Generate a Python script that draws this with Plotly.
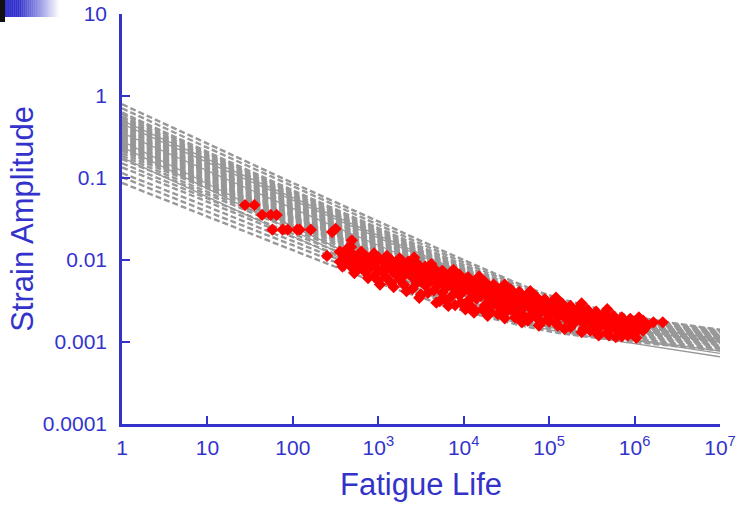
import plotly.graph_objects as go

# ---- axis ticks ----
life_ticks = [1, 10, 100, 1e3, 1e4, 1e5, 1e6, 1e7]
life_tick_text = ["1", "10", "100", "10<sup>3</sup>", "10<sup>4</sup>",
                  "10<sup>5</sup>", "10<sup>6</sup>", "10<sup>7</sup>"]
strain_ticks = [1e-4, 1e-3, 1e-2, 0.1, 1, 10]
strain_tick_text = ["0.0001", "0.001", "0.01", "0.1", "1", "10"]

# ---- predicted strain-life curves: log10(strain) at N = 1, 10, ..., 1e7 ----
curve_life = [1, 10, 100, 1e3, 1e4, 1e5, 1e6, 1e7]
dashed_curves_log = [
    [-0.10, -0.58, -1.06, -1.53, -2.00, -2.43, -2.69, -2.85],
    [-0.15, -0.63, -1.10, -1.57, -2.03, -2.45, -2.70, -2.86],
    [-0.20, -0.68, -1.15, -1.61, -2.06, -2.48, -2.72, -2.87],
    [-0.22, -0.70, -1.17, -1.63, -2.08, -2.49, -2.73, -2.88],
    [-0.25, -0.72, -1.19, -1.65, -2.10, -2.50, -2.74, -2.89],
    [-0.27, -0.74, -1.21, -1.67, -2.11, -2.51, -2.745, -2.895],
    [-0.29, -0.76, -1.22, -1.68, -2.12, -2.52, -2.75, -2.90],
    [-0.31, -0.78, -1.24, -1.70, -2.14, -2.53, -2.76, -2.905],
    [-0.33, -0.79, -1.25, -1.71, -2.15, -2.54, -2.77, -2.91],
    [-0.35, -0.81, -1.27, -1.72, -2.16, -2.545, -2.775, -2.915],
    [-0.37, -0.83, -1.29, -1.74, -2.17, -2.55, -2.78, -2.92],
    [-0.385, -0.845, -1.305, -1.755, -2.185, -2.56, -2.785, -2.925],
    [-0.40, -0.86, -1.32, -1.77, -2.20, -2.57, -2.79, -2.93],
    [-0.415, -0.87, -1.33, -1.78, -2.205, -2.575, -2.795, -2.935],
    [-0.43, -0.88, -1.34, -1.79, -2.21, -2.58, -2.80, -2.94],
    [-0.445, -0.90, -1.355, -1.805, -2.225, -2.59, -2.805, -2.945],
    [-0.46, -0.92, -1.37, -1.82, -2.24, -2.60, -2.81, -2.95],
    [-0.475, -0.93, -1.38, -1.83, -2.245, -2.605, -2.815, -2.955],
    [-0.49, -0.94, -1.39, -1.84, -2.25, -2.61, -2.82, -2.96],
    [-0.505, -0.955, -1.405, -1.85, -2.26, -2.615, -2.825, -2.965],
    [-0.52, -0.97, -1.42, -1.86, -2.27, -2.62, -2.83, -2.97],
    [-0.535, -0.985, -1.435, -1.875, -2.285, -2.63, -2.835, -2.97],
    [-0.55, -1.00, -1.45, -1.89, -2.30, -2.64, -2.84, -2.97],
    [-0.565, -1.015, -1.46, -1.90, -2.305, -2.645, -2.845, -2.975],
    [-0.58, -1.03, -1.47, -1.91, -2.31, -2.65, -2.85, -2.98],
    [-0.595, -1.04, -1.48, -1.915, -2.315, -2.655, -2.855, -2.985],
    [-0.61, -1.05, -1.49, -1.92, -2.32, -2.66, -2.86, -2.99],
    [-0.625, -1.065, -1.505, -1.935, -2.335, -2.67, -2.865, -2.995],
    [-0.64, -1.08, -1.52, -1.95, -2.35, -2.68, -2.87, -3.00],
    [-0.655, -1.095, -1.535, -1.96, -2.36, -2.685, -2.87, -3.00],
    [-0.67, -1.11, -1.55, -1.97, -2.37, -2.69, -2.87, -3.00],
    [-0.70, -1.13, -1.57, -1.99, -2.38, -2.70, -2.88, -3.01],
    [-0.73, -1.17, -1.60, -2.02, -2.41, -2.72, -2.89, -3.02],
    [-0.77, -1.20, -1.63, -2.06, -2.43, -2.74, -2.91, -3.03],
    [-0.82, -1.25, -1.68, -2.09, -2.47, -2.76, -2.92, -3.04],
    [-0.87, -1.29, -1.72, -2.13, -2.50, -2.78, -2.94, -3.05],
    [-0.94, -1.35, -1.77, -2.18, -2.54, -2.81, -2.96, -3.07],
    [-0.99, -1.41, -1.82, -2.23, -2.58, -2.84, -2.98, -3.08],
    [-1.06, -1.47, -1.88, -2.28, -2.62, -2.87, -3.00, -3.10],
]
solid_curves_log = [
    [-0.30, -0.77, -1.24, -1.70, -2.15, -2.55, -2.80, -2.96],
    [-0.34, -0.81, -1.27, -1.73, -2.17, -2.56, -2.80, -2.97],
    [-0.45, -0.91, -1.37, -1.82, -2.25, -2.62, -2.85, -3.00],
    [-0.55, -1.07, -1.59, -2.09, -2.55, -2.81, -2.98, -3.14],
    [-0.62, -1.13, -1.64, -2.14, -2.59, -2.85, -3.02, -3.18],
    [-0.75, -1.23, -1.71, -2.18, -2.58, -2.82, -2.97, -3.11],
]

# ---- test results: (log10 fatigue life, log10 strain amplitude) ----
test_points_log = [
    (1.44, -1.33), (1.55, -1.33), (1.64, -1.45), (1.74, -1.45), (1.81, -1.45),
    (1.76, -1.63), (1.88, -1.63), (1.94, -1.63), (2.05, -1.63), (2.08, -1.63),
    (2.21, -1.63), (2.46, -1.66), (2.50, -1.62), (2.40, -1.95), (2.69, -1.76),
    (2.68, -1.84),
    (2.55, -1.90), (2.55, -2.02), (2.60, -1.95), (2.60, -2.06), (2.64, -1.86),
    (2.64, -1.99), (2.70, -1.93), (2.70, -2.04), (2.70, -2.10), (2.75, -1.97),
    (2.75, -2.12), (2.80, -1.90), (2.80, -2.03), (2.85, -1.95), (2.85, -2.08),
    (2.85, -2.15), (2.90, -1.99), (2.90, -2.10), (2.95, -1.92), (2.95, -2.05),
    (2.95, -2.20), (3.00, -1.97), (3.00, -2.12), (3.00, -2.25), (3.05, -2.02),
    (3.05, -2.15), (3.10, -1.95), (3.10, -2.08), (3.10, -2.22), (3.15, -2.00),
    (3.15, -2.12), (3.15, -2.28), (3.20, -2.04), (3.20, -2.17), (3.25, -1.98),
    (3.25, -2.10), (3.25, -2.24), (3.30, -2.06), (3.30, -2.19), (3.30, -2.30),
    (3.35, -2.02), (3.35, -2.13), (3.40, -2.08), (3.40, -2.21), (3.40, -2.35),
    (3.45, -2.04), (3.45, -2.16), (3.45, -2.28), (3.50, -2.12), (3.50, -2.25),
    (3.50, -2.42), (3.55, -2.08), (3.55, -2.19), (3.55, -2.31), (3.60, -2.14),
    (3.60, -2.27), (3.65, -2.10), (3.65, -2.22), (3.65, -2.37), (3.70, -2.17),
    (3.70, -2.30), (3.72, -2.50), (3.75, -2.13), (3.75, -2.25), (3.75, -2.40),
    (3.80, -2.20), (3.80, -2.33), (3.85, -2.16), (3.85, -2.28), (3.85, -2.45),
    (3.90, -2.22), (3.90, -2.36), (3.90, -2.55), (3.95, -2.18), (3.95, -2.31),
    (3.95, -2.43), (4.00, -2.25), (4.00, -2.38), (4.05, -2.21), (4.05, -2.34),
    (4.05, -2.50), (4.10, -2.28), (4.10, -2.41), (4.10, -2.58), (4.15, -2.24),
    (4.15, -2.36), (4.15, -2.47), (4.20, -2.31), (4.20, -2.44), (4.25, -2.27),
    (4.25, -2.39), (4.25, -2.55), (4.30, -2.34), (4.30, -2.47), (4.30, -2.62),
    (4.35, -2.30), (4.35, -2.42), (4.35, -2.53), (4.40, -2.37), (4.40, -2.50),
    (4.40, -2.66), (4.45, -2.33), (4.45, -2.45), (4.50, -2.40), (4.50, -2.52),
    (4.50, -2.63), (4.55, -2.36), (4.55, -2.48), (4.55, -2.60), (4.60, -2.43),
    (4.60, -2.56), (4.60, -2.70), (4.65, -2.39), (4.65, -2.51), (4.70, -2.46),
    (4.70, -2.58), (4.70, -2.68), (4.75, -2.42), (4.75, -2.54), (4.75, -2.74),
    (4.80, -2.49), (4.80, -2.61), (4.85, -2.45), (4.85, -2.57), (4.85, -2.70),
    (4.90, -2.52), (4.90, -2.64), (4.90, -2.77), (4.95, -2.48), (4.95, -2.60),
    (5.00, -2.55), (5.00, -2.67), (5.00, -2.75), (5.05, -2.50), (5.05, -2.62),
    (5.10, -2.57), (5.10, -2.69), (5.10, -2.80), (5.15, -2.53), (5.15, -2.65),
    (5.20, -2.60), (5.20, -2.72), (5.25, -2.56), (5.25, -2.68), (5.25, -2.82),
    (5.30, -2.62), (5.30, -2.74), (5.35, -2.58), (5.35, -2.70), (5.40, -2.65),
    (5.40, -2.77), (5.40, -2.84), (5.45, -2.61), (5.45, -2.72), (5.50, -2.67),
    (5.50, -2.79), (5.55, -2.63), (5.55, -2.75), (5.55, -2.88), (5.60, -2.69),
    (5.60, -2.81), (5.65, -2.65), (5.65, -2.77), (5.70, -2.72), (5.70, -2.84),
    (5.70, -2.92), (5.75, -2.68), (5.75, -2.79), (5.80, -2.74), (5.80, -2.86),
    (5.85, -2.70), (5.85, -2.81), (5.85, -2.93), (5.90, -2.76), (5.90, -2.88),
    (5.95, -2.72), (5.95, -2.83), (6.00, -2.78), (6.00, -2.90), (6.05, -2.70),
    (6.05, -2.82), (6.10, -2.74), (6.10, -2.86), (6.15, -2.80), (6.22, -2.76),
    (6.33, -2.76),
    # lower edge of the scatter band
    (2.58, -2.08), (2.72, -2.16), (2.88, -2.22), (3.02, -2.30), (3.18, -2.33),
    (3.33, -2.38), (3.48, -2.46), (3.58, -2.40), (3.68, -2.52), (3.78, -2.48),
    (3.82, -2.56), (3.97, -2.52), (4.02, -2.60), (4.12, -2.64), (4.22, -2.60),
    (4.28, -2.68), (4.42, -2.58), (4.48, -2.71), (4.62, -2.64), (4.68, -2.76),
    (4.78, -2.68), (4.88, -2.80), (4.98, -2.72), (5.08, -2.76), (5.18, -2.84),
    (5.28, -2.78), (5.38, -2.88), (5.48, -2.86), (5.58, -2.92), (5.68, -2.88),
    (5.78, -2.94), (5.92, -2.92), (6.02, -2.95),
    # middle of the scatter band
    (2.62, -2.00), (2.78, -2.06), (2.92, -2.03), (3.08, -2.10), (3.22, -2.12),
    (3.38, -2.18), (3.52, -2.20), (3.68, -2.26), (3.82, -2.30), (3.98, -2.36),
    (4.12, -2.38), (4.28, -2.44), (4.42, -2.46), (4.58, -2.52), (4.72, -2.55),
    (4.88, -2.60), (5.02, -2.62), (5.18, -2.66), (5.32, -2.70), (5.48, -2.74),
    (5.62, -2.76), (5.78, -2.80), (5.92, -2.84),
    # upper edge of the scatter band
    (3.42, -1.97), (3.62, -2.05), (3.88, -2.12), (4.18, -2.20), (4.48, -2.30),
    (4.78, -2.38), (5.08, -2.46), (5.38, -2.53), (5.68, -2.60),
]

BLUE = "#3333cc"
GRAY = "#989898"
FONT = "Liberation Sans, Arial, sans-serif"

fig = go.Figure()

for curve in dashed_curves_log:
    fig.add_trace(go.Scatter(
        x=curve_life, y=[10 ** v for v in curve], mode="lines",
        line=dict(color=GRAY, width=2.4, dash="6px,3px", shape="spline", smoothing=0.8),
        hoverinfo="skip", showlegend=False))

for curve in solid_curves_log:
    fig.add_trace(go.Scatter(
        x=curve_life, y=[10 ** v for v in curve], mode="lines",
        line=dict(color=GRAY, width=1.3, shape="spline", smoothing=0.8),
        hoverinfo="skip", showlegend=False))

fig.add_trace(go.Scatter(
    x=[10 ** p[0] for p in test_points_log],
    y=[10 ** p[1] for p in test_points_log],
    mode="markers",
    marker=dict(symbol="diamond", size=9.5, color="#ff0000", line=dict(width=0)),
    showlegend=False))

# plot area in pixels: x 122..720, y 14..424
L, R, T, B = 122, 720, 14, 424


def px_x(px):
    return (px - L) / (R - L)


def px_y(py):
    return (B - py) / (B - T)


# title-bar ornament in the top-left corner
shapes = []
n_strips = 26
x0, x1 = 5.0, 58.0
for i in range(n_strips):
    a = x0 + (x1 - x0) * i / n_strips
    b = x0 + (x1 - x0) * (i + 1) / n_strips
    t = max(0.0, (a - 18.0) / (x1 - 18.0))
    r = int(51 + (255 - 51) * t)
    g = int(51 + (255 - 51) * t)
    bl = int(204 + (255 - 204) * t)
    shapes.append(dict(type="rect", xref="paper", yref="paper",
                       x0=px_x(a), x1=px_x(b + 0.3), y0=px_y(17), y1=px_y(0),
                       fillcolor=f"rgb({r},{g},{bl})", line=dict(width=0), layer="above"))
shapes.append(dict(type="rect", xref="paper", yref="paper",
                   x0=px_x(0), x1=px_x(5), y0=px_y(22), y1=px_y(0),
                   fillcolor="#111111", line=dict(width=0), layer="above"))

axis_common = dict(
    type="log", showgrid=False, zeroline=False, showline=True, automargin=False,
    linecolor=BLUE, linewidth=2.5, ticks="inside", ticklen=8, tickwidth=2,
    tickcolor=BLUE, tickfont=dict(family=FONT, size=21, color=BLUE),
)

fig.update_layout(
    width=736, height=505,
    margin=dict(l=L, r=736 - R, t=T, b=505 - B, autoexpand=False),
    paper_bgcolor="white", plot_bgcolor="white",
    font=dict(family=FONT, color=BLUE),
    xaxis=dict(**axis_common, range=[0, 7], tickvals=life_ticks, ticktext=life_tick_text,
               ticklabelstandoff=3,
               title=dict(text="Fatigue Life", font=dict(family=FONT, size=31, color=BLUE),
                          standoff=16)),
    yaxis=dict(**axis_common, range=[-4, 1], tickvals=strain_ticks, ticktext=strain_tick_text,
               ticklabelstandoff=8,
               title=dict(text="Strain Amplitude", font=dict(family=FONT, size=31, color=BLUE),
                          standoff=0)),
    shapes=shapes,
)

fig.write_html("out.html")
